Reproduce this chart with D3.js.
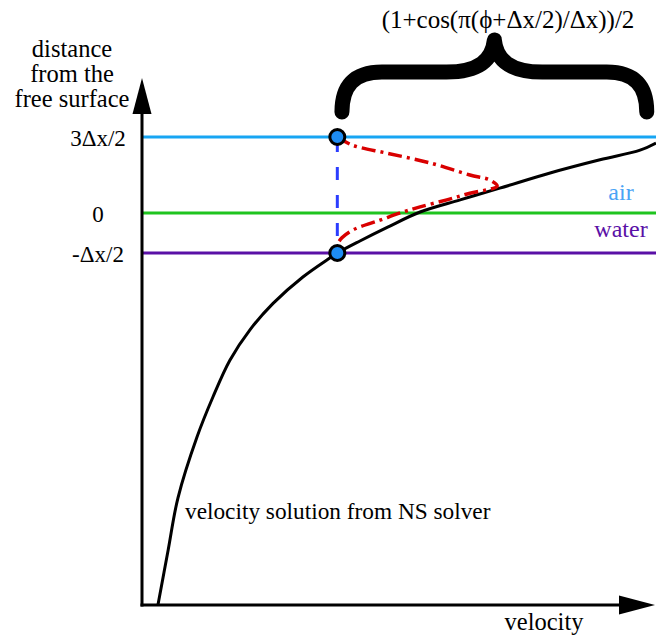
<!DOCTYPE html>
<html>
<head>
<meta charset="utf-8">
<script src="https://cdn.jsdelivr.net/npm/d3@7"></script>
<style>
  html, body { margin: 0; padding: 0; background: #fff; }
  svg { display: block; }
</style>
</head>
<body>
<svg id="chart" width="656" height="635"></svg>
<script>
// Velocity profile from the Navier–Stokes solver (velocity, distance in Δx units)
const solverVelocity = [0.31, 0.51, 0.70, 1.07, 1.38, 1.71, 2.10, 2.55, 3.13, 3.66, 3.80, 4.24, 4.77, 5.41, 6.19, 6.96, 7.94, 8.91, 9.69, 10.0];
const solverDistance = [-4.9, -4.21, -3.56, -2.80, -2.30, -1.84, -1.46, -1.13, -0.80, -0.56, -0.5, -0.35, -0.18, 0.02, 0.26, 0.49, 0.79, 1.05, 1.24, 1.38];

// Blended (cosine-weighted) velocity extension into the air layer
const blendVelocity = [3.80, 4.09, 4.77, 5.60, 6.38, 6.77, 6.91, 6.38, 5.93, 5.41, 5.08, 4.63, 4.11, 3.89, 3.80, 3.80];
const blendDistance = [1.5, 1.34, 1.18, 0.99, 0.75, 0.65, 0.53, 0.39, 0.26, 0.12, 0.02, -0.09, -0.21, -0.31, -0.40, -0.5];

// Reference levels (distance from the free surface)
const levelValues = [1.5, 0, -0.5];
const levelLabels = ["3Δx/2", "0", "-Δx/2"];
const levelColors = ["#17a5f3", "#1fc41f", "#5a10a6"];

// Grid nodes where the profile is sampled
const nodeVelocity = [3.80, 3.80];
const nodeDistance = [1.5, -0.5];

const SERIF = "'Liberation Serif', 'Times New Roman', Times, 'DejaVu Serif', 'Noto Serif', serif";

const svg = d3.select("#chart");

// Schematic axes: the distance axis is not drawn to one scale above and below the surface
const x = d3.scaleLinear().domain([0, 10]).range([142, 656]);
const y = d3.scaleLinear().domain([-4.9, 0, 1.5]).range([605, 213, 137]);

const yTop = 78, xRight = 655;

function label(sel, size = 24) {
  return sel.style("font-family", SERIF).style("font-size", size + "px");
}

// Horizontal level lines
svg.append("g").selectAll("line")
  .data(levelValues)
  .join("line")
  .attr("x1", x(0)).attr("x2", 656)
  .attr("y1", d => y(d)).attr("y2", d => y(d))
  .attr("stroke", (d, i) => levelColors[i])
  .attr("stroke-width", 3);

// Level tick labels
const yAxis = d3.axisLeft(y)
  .tickValues(levelValues)
  .tickSize(0)
  .tickFormat((d, i) => levelLabels[i]);
const gy = svg.append("g")
  .attr("transform", `translate(${x(0)},0)`)
  .call(yAxis)
  .attr("font-family", null)
  .attr("font-size", null);
gy.select(".domain").remove();
gy.selectAll("text")
  .attr("x", -44)
  .attr("dy", "0.36em")
  .attr("text-anchor", "middle")
  .attr("fill", "#000")
  .call(label, 23);

// Axis lines with arrowheads
svg.append("line")
  .attr("x1", x(0)).attr("x2", x(0))
  .attr("y1", y(-4.9) + 1.5).attr("y2", yTop + 30)
  .attr("stroke", "#000").attr("stroke-width", 3);
svg.append("line")
  .attr("x1", x(0) - 1.5).attr("x2", xRight - 30)
  .attr("y1", y(-4.9)).attr("y2", y(-4.9))
  .attr("stroke", "#000").attr("stroke-width", 3);
svg.append("path")
  .attr("d", `M${x(0)},${yTop} L${x(0) - 9.5},${yTop + 36} L${x(0) + 9.5},${yTop + 36} Z`)
  .attr("fill", "#000");
svg.append("path")
  .attr("d", `M${xRight},${y(-4.9)} L${xRight - 36},${y(-4.9) - 9.5} L${xRight - 36},${y(-4.9) + 9.5} Z`)
  .attr("fill", "#000");

// Axis titles
const ytitle = svg.append("text")
  .attr("text-anchor", "middle")
  .call(label, 24.5);
["distance", "from the", "free surface"].forEach((t, i) => {
  ytitle.append("tspan").attr("x", 72).attr("y", 57 + i * 25).text(t);
});
svg.append("text")
  .attr("x", 544).attr("y", 630)
  .attr("text-anchor", "middle")
  .call(label, 24.5)
  .text("velocity");

// Solver velocity profile
const line = d3.line()
  .x(d => x(d[0])).y(d => y(d[1]))
  .curve(d3.curveCatmullRom.alpha(0.5));
svg.append("path")
  .datum(d3.zip(solverVelocity, solverDistance))
  .attr("d", line)
  .attr("fill", "none")
  .attr("stroke", "#000")
  .attr("stroke-width", 3);

// Dashed link between the two nodes
svg.append("line")
  .attr("x1", x(nodeVelocity[0])).attr("x2", x(nodeVelocity[1]))
  .attr("y1", y(nodeDistance[0])).attr("y2", y(nodeDistance[1]))
  .attr("stroke", "#2b3dff")
  .attr("stroke-width", 3)
  .attr("stroke-dasharray", "13,15")
  .attr("stroke-dashoffset", -2);

// Cosine-blended extrapolation
svg.append("path")
  .datum(d3.zip(blendVelocity, blendDistance))
  .attr("d", line)
  .attr("fill", "none")
  .attr("stroke", "#d90000")
  .attr("stroke-width", 3.5)
  .attr("stroke-dasharray", "14,5,3,5");

// Nodes
svg.append("g").selectAll("circle")
  .data(d3.zip(nodeVelocity, nodeDistance))
  .join("circle")
  .attr("cx", d => x(d[0])).attr("cy", d => y(d[1]))
  .attr("r", 7.5)
  .attr("fill", "#1e8cf2")
  .attr("stroke", "#000")
  .attr("stroke-width", 3);

// Curly brace spanning the blended region
const bl = x(3.89), br = x(9.82), bm = (bl + br) / 2;
const bBot = 112, bMid = 72, bTip = 40;
const brace = `M${bl},${bBot}
  C${bl},${bMid + 14} ${bl + 12},${bMid} ${bl + 40},${bMid}
  L${bm - 48},${bMid}
  C${bm - 16},${bMid} ${bm - 2},${bMid - 12} ${bm},${bTip}
  C${bm + 2},${bMid - 12} ${bm + 16},${bMid} ${bm + 48},${bMid}
  L${br - 40},${bMid}
  C${br - 12},${bMid} ${br},${bMid + 14} ${br},${bBot}`;
svg.append("path")
  .attr("d", brace)
  .attr("fill", "none")
  .attr("stroke", "#000")
  .attr("stroke-width", 15)
  .attr("stroke-linecap", "round")
  .attr("stroke-linejoin", "round");

svg.append("text")
  .attr("x", 508).attr("y", 28)
  .attr("text-anchor", "middle")
  .call(label, 25)
  .text("(1+cos(π(ϕ+Δx/2)/Δx))/2");

// Phase labels
svg.append("text")
  .attr("x", 621).attr("y", 200)
  .attr("text-anchor", "middle")
  .call(label, 24)
  .style("fill", "#4aa3f5")
  .text("air");
svg.append("text")
  .attr("x", 621).attr("y", 237)
  .attr("text-anchor", "middle")
  .call(label, 24)
  .style("fill", "#5a10a6")
  .text("water");

svg.append("text")
  .attr("x", 185).attr("y", 519)
  .call(label, 23.3)
  .text("velocity solution from NS solver");
</script>
</body>
</html>
